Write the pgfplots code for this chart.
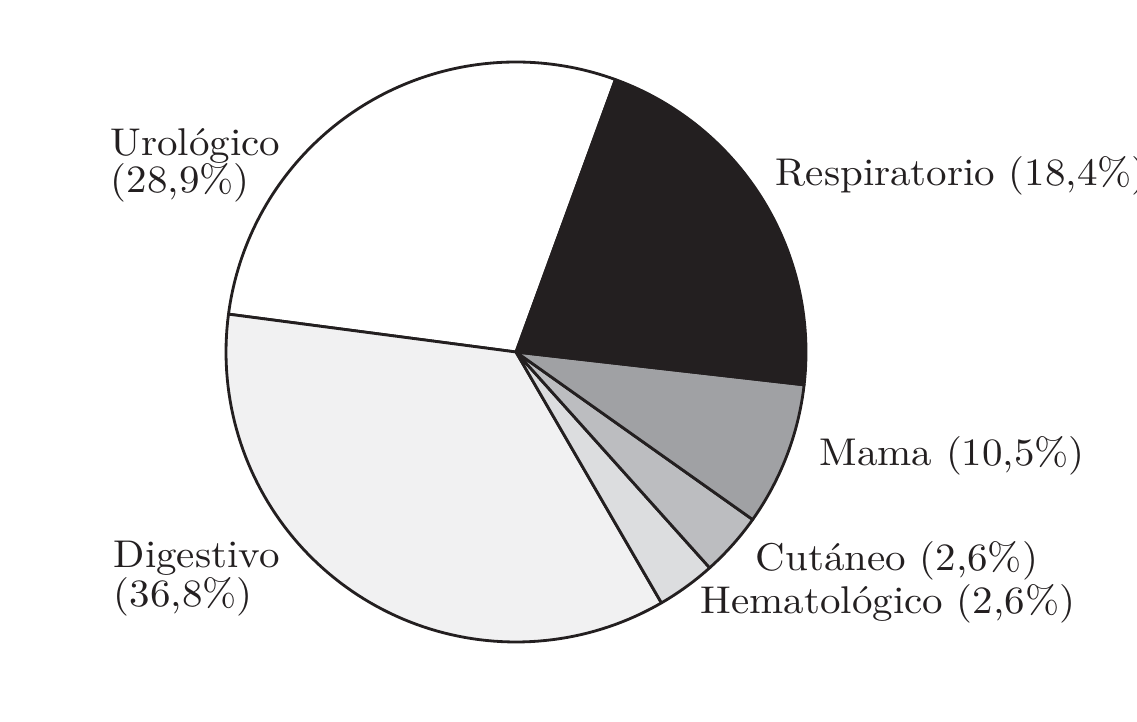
\documentclass[border=0pt]{standalone}
\usepackage{fontspec}
\setmainfont{Latin Modern Roman}[FakeStretch=1.06]
\usepackage{pgfplots}
\pgfplotsset{compat=1.18}
\definecolor{ink}{HTML}{231F20}
\definecolor{cResp}{HTML}{231F20}
\definecolor{cMama}{HTML}{A0A1A4}
\definecolor{cCut}{HTML}{BCBDC0}
\definecolor{cHem}{HTML}{DCDDDF}
\definecolor{cDig}{HTML}{F1F1F2}
\definecolor{cUro}{HTML}{FFFFFF}
\tikzset{lab/.style={anchor=base west, inner sep=0pt, text=ink, font=\fontsize{11}{13}\selectfont}}
\begin{document}
\begin{tikzpicture}
\begin{axis}[
  width=11.37cm, height=7.22cm, scale only axis,
  xmin=0, xmax=1137, ymin=0, ymax=722, y dir=reverse,
  hide axis, clip=false,
  every axis plot/.append style={draw=ink, line width=0.8pt, line join=round, samples=90, variable=\t},
]
% slice boundaries (degrees, counter-clockwise from the right)
% Urologico 69.95-172.5, Digestivo 172.5-300.1, Hematologico 300.1-311.9,
% Cutaneo 311.9-324.7, Mama 324.7-353.5, Respiratorio 353.5-429.95
\addplot[fill=cUro, domain=69.95:172.5] ({516+290*cos(t)},{352-290*sin(t)}) -- (axis cs:516,352) -- cycle;
\addplot[fill=cDig, domain=172.5:300.1] ({516+290*cos(t)},{352-290*sin(t)}) -- (axis cs:516,352) -- cycle;
\addplot[fill=cHem, domain=300.1:311.9, samples=12] ({516+290*cos(t)},{352-290*sin(t)}) -- (axis cs:516,352) -- cycle;
\addplot[fill=cCut, domain=311.9:324.7, samples=12] ({516+290*cos(t)},{352-290*sin(t)}) -- (axis cs:516,352) -- cycle;
\addplot[fill=cMama, domain=324.7:353.5, samples=24] ({516+290*cos(t)},{352-290*sin(t)}) -- (axis cs:516,352) -- cycle;
\addplot[fill=cResp, domain=353.5:429.95] ({516+290*cos(t)},{352-290*sin(t)}) -- (axis cs:516,352) -- cycle;

\node[lab] at (axis cs:110,156) {Urológico};
\node[lab] at (axis cs:110,193) {(28,9\%)};
\node[lab] at (axis cs:775,186) {Respiratorio (18,4\%)};
\node[lab] at (axis cs:819,466) {Mama (10,5\%)};
\node[lab] at (axis cs:755,571) {Cutáneo (2,6\%)};
\node[lab] at (axis cs:700,614) {Hematológico (2,6\%)};
\node[lab] at (axis cs:113,568) {Digestivo};
\node[lab] at (axis cs:113,606) {(36,8\%)};
\end{axis}
\pgfresetboundingbox
\path (0,0) rectangle (11.37cm,7.22cm);
\end{tikzpicture}
\end{document}
